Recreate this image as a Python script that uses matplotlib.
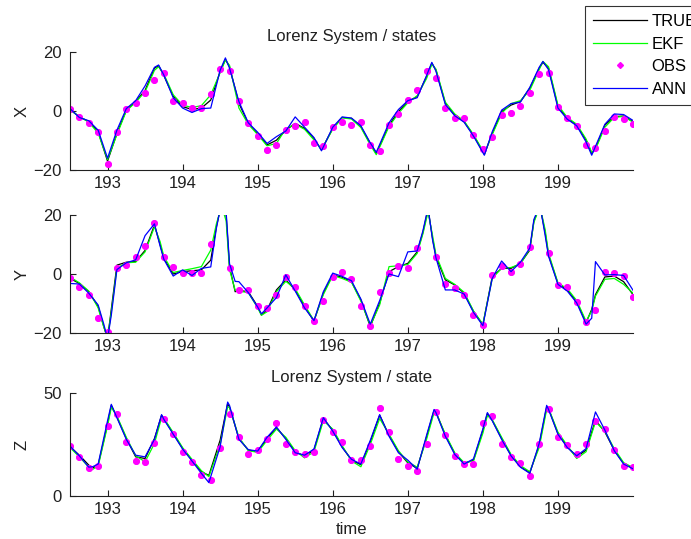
import matplotlib
matplotlib.use("Agg")
import matplotlib.pyplot as plt
from matplotlib.lines import Line2D

plt.rcParams['font.family'] = ['Liberation Sans', 'DejaVu Sans']

# ---------------- data ----------------
t_obs = [192.5, 192.625, 192.75, 192.875, 193.0, 193.125, 193.25, 193.375, 193.5, 193.625,
         193.75, 193.875, 194.0, 194.125, 194.25, 194.375, 194.5, 194.625, 194.75, 194.875,
         195.0, 195.125, 195.25, 195.375, 195.5, 195.625, 195.75, 195.875, 196.0, 196.125,
         196.25, 196.375, 196.5, 196.625, 196.75, 196.875, 197.0, 197.125, 197.25, 197.375,
         197.5, 197.625, 197.75, 197.875, 198.0, 198.125, 198.25, 198.375, 198.5, 198.625,
         198.75, 198.875, 199.0, 199.125, 199.25, 199.375, 199.5, 199.625, 199.75, 199.875,
         200.0]

# X state
t_x = [192.5, 192.625, 192.75, 192.875, 193.0, 193.125, 193.25, 193.375, 193.5, 193.625,
       193.68, 193.75, 193.875, 194.0, 194.125, 194.25, 194.375, 194.5, 194.57, 194.625,
       194.75, 194.875, 195.0, 195.125, 195.25, 195.375, 195.5, 195.625, 195.75, 195.85,
       196.0, 196.125, 196.25, 196.375, 196.5, 196.58, 196.75, 196.875, 197.0, 197.125,
       197.25, 197.32, 197.375, 197.5, 197.625, 197.75, 197.875, 198.02, 198.125, 198.25,
       198.375, 198.5, 198.625, 198.75, 198.8, 198.875, 199.0, 199.125, 199.25, 199.375,
       199.45, 199.5, 199.625, 199.75, 199.875, 200.0]
x_true = [0.5, -2.0, -3.6, -7.0, -17.0, -7.6, 0.3, 3.2, 7.0, 14.5,
          15.4, 12.0, 5.0, 1.5, 0.5, 1.0, 3.7, 13.4, 17.5, 15.0,
          2.6, -4.2, -7.6, -11.5, -9.9, -6.5, -4.2, -5.9, -9.3, -13.2,
          -5.9, -2.2, -2.5, -5.3, -11.0, -14.4, -4.8, -0.2, 3.2, 4.9,
          11.7, 16.2, 13.9, 2.6, -1.4, -3.6, -8.2, -14.7, -7.6, -0.2,
          2.0, 3.2, 7.7, 14.5, 16.5, 14.5, 1.5, -2.5, -4.8, -9.9,
          -14.4, -12.7, -4.8, -1.9, -1.7, -3.6]
x_ekf = [0.3, -1.8, -3.8, -7.5, -16.5, -8.0, 0.0, 3.0, 6.5, 13.8,
         15.0, 12.5, 5.5, 2.0, 1.2, 1.8, 5.5, 13.0, 17.2, 15.5,
         1.0, -4.5, -8.0, -11.8, -11.0, -6.0, -4.5, -6.2, -9.8, -13.0,
         -6.2, -2.3, -2.7, -5.6, -11.5, -14.8, -5.2, -0.8, 2.8, 5.2,
         11.0, 15.8, 14.2, 3.0, -1.0, -3.4, -8.0, -14.3, -8.0, -0.8,
         2.5, 3.5, 7.0, 14.0, 16.8, 15.0, 2.0, -2.2, -4.5, -9.5,
         -14.0, -13.0, -5.5, -2.2, -1.8, -3.8]
x_ann = [0.8, -2.2, -3.3, -6.5, -16.0, -6.5, 0.8, 3.5, 8.5, 14.8,
         15.6, 12.2, 4.5, 1.0, -0.5, 0.8, 1.0, 13.8, 18.0, 14.5,
         3.2, -4.0, -7.2, -11.0, -8.7, -6.8, -2.0, -5.5, -9.0, -13.5,
         -5.5, -2.0, -2.4, -5.0, -10.8, -14.0, -4.0, 0.5, 3.5, 4.5,
         12.0, 16.5, 13.5, 2.2, -1.6, -3.8, -8.5, -15.0, -7.0, 0.3,
         2.5, 3.0, 8.0, 14.8, 16.8, 14.0, 1.0, -2.8, -5.0, -10.5,
         -15.0, -12.0, -4.5, -1.0, -1.2, -3.2]
x_obs = [0.7, -1.9, -4.2, -7.0, -17.8, -7.2, 0.6, 2.8, 6.0, 10.5,
         13.0, 3.5, 2.6, 1.1, 1.1, 5.7, 14.2, 13.4, 3.5, -4.2,
         -8.5, -13.2, -11.5, -6.5, -5.0, -3.6, -11.0, -11.8, -5.3, -3.6,
         -4.8, -3.6, -11.4, -13.6, -4.8, -1.1, 3.7, 7.1, 13.4, 11.2,
         0.9, -2.5, -2.5, -8.2, -12.9, -8.7, -1.4, -0.6, 1.7, 6.0,
         12.6, 13.0, 1.2, -2.5, -5.0, -11.4, -12.5, -6.8, -1.9, -2.8,
         -4.5]

# Y state
t_y = [192.5, 192.625, 192.75, 192.875, 192.95, 193.0, 193.05, 193.125, 193.25, 193.375,
       193.5, 193.625, 193.7, 193.75, 193.875, 194.0, 194.125, 194.25, 194.375, 194.45,
       194.52, 194.58, 194.625, 194.7, 194.75, 194.875, 195.0, 195.05, 195.125, 195.25,
       195.375, 195.5, 195.625, 195.75, 195.875, 196.0, 196.125, 196.25, 196.375, 196.5,
       196.625, 196.75, 196.875, 197.0, 197.125, 197.2, 197.27, 197.33, 197.375, 197.5,
       197.625, 197.75, 197.875, 198.0, 198.125, 198.25, 198.375, 198.5, 198.625, 198.68,
       198.76, 198.83, 198.875, 199.0, 199.125, 199.25, 199.375, 199.45, 199.5, 199.625,
       199.75, 199.875, 200.0]
y_true = [-1.5, -3.2, -6.0, -11.0, -17.8, -22.0, -12.0, 3.0, 4.0, 4.2,
          8.0, 16.6, 10.0, 5.3, 0.0, 0.8, 1.1, 1.4, 4.7, 16.0,
          24.0, 20.0, 2.5, -6.0, -5.6, -6.0, -11.0, -13.9, -12.2, -5.4,
          -2.0, -5.4, -11.0, -16.0, -6.5, -0.3, -1.1, -2.6, -8.8, -17.8,
          -9.9, 0.8, 2.5, 3.6, 7.5, 14.0, 22.0, 12.0, 5.9, -2.0,
          -3.7, -6.5, -12.7, -17.2, -0.9, 1.9, 1.9, 3.6, 8.1, 18.0,
          23.0, 14.0, 6.4, -3.2, -5.4, -9.4, -16.5, -12.0, -7.0, -1.0,
          -0.7, -2.6, -7.0]
y_ekf = [-1.0, -3.0, -5.8, -11.5, -18.0, -21.5, -13.0, 2.0, 3.8, 4.0,
         7.5, 16.0, 11.0, 6.0, 0.5, 1.2, 1.8, 2.5, 8.1, 17.0,
         23.0, 18.0, 1.5, -5.5, -5.8, -6.3, -11.5, -14.0, -12.8, -6.0,
         -2.5, -5.0, -10.5, -15.8, -7.0, -0.5, -1.5, -2.8, -9.2, -17.5,
         -10.5, 2.5, 2.8, 3.2, 7.0, 13.5, 21.0, 13.0, 6.5, -1.5,
         -3.5, -6.2, -12.5, -17.0, -1.5, 2.0, 2.2, 3.4, 8.5, 17.5,
         23.0, 15.0, 7.0, -3.0, -5.0, -9.0, -16.0, -12.5, -7.5, -1.8,
         -1.5, -3.5, -6.5]
y_ann = [-3.2, -3.4, -6.5, -10.5, -17.0, -22.0, -14.0, 1.5, 3.8, 4.8,
         13.0, 17.0, 9.5, 5.0, -0.7, 1.4, -0.5, 1.9, 2.4, 15.5,
         24.5, 21.0, 3.5, -2.5, -2.6, -6.3, -11.2, -13.5, -11.5, -8.0,
         -0.3, -5.8, -11.5, -15.8, -6.0, 0.3, -0.8, -2.3, -8.5, -17.0,
         -9.0, 0.0, -0.9, 7.5, 7.8, 14.5, 22.5, 11.5, 5.5, -5.4,
         -5.4, -6.8, -13.0, -17.5, -1.5, 4.4, 0.8, 4.0, 8.8, 18.5,
         23.5, 13.0, 6.0, -3.5, -5.8, -9.8, -17.0, -15.0, 4.2, -0.3,
         -0.2, -0.5, -5.5]
y_obs = [-1.5, -4.3, -7.0, -14.8, -19.8, 1.9, 3.0, 5.9, 9.4, 17.2,
         5.6, 2.5, 0.5, 0.2, 0.5, 10.3, 22.0, 2.0, -5.4, -5.4,
         -10.8, -11.6, -7.0, -1.0, -4.3, -10.8, -16.1, -9.0, -1.1, 0.8,
         -1.8, -11.0, -17.7, -6.0, 0.5, 2.8, 1.9, 8.7, 22.0, 5.9,
         -3.5, -4.8, -7.0, -13.9, -17.2, -0.3, 2.8, 0.8, 3.4, 9.0,
         23.0, 7.0, -3.7, -4.5, -9.4, -16.2, -12.2, 0.8, 0.5, -0.7,
         -7.9]

# Z state
t_z = [192.5, 192.625, 192.75, 192.8, 192.875, 193.0, 193.05, 193.125, 193.25, 193.375,
       193.5, 193.625, 193.72, 193.75, 193.875, 194.0, 194.125, 194.25, 194.35, 194.5,
       194.6, 194.625, 194.75, 194.875, 195.0, 195.125, 195.25, 195.375, 195.5, 195.625,
       195.75, 195.875, 196.0, 196.125, 196.25, 196.375, 196.5, 196.625, 196.75, 196.875,
       197.0, 197.125, 197.25, 197.35, 197.375, 197.5, 197.625, 197.75, 197.875, 198.0,
       198.06, 198.125, 198.25, 198.375, 198.5, 198.625, 198.75, 198.85, 198.875, 199.0,
       199.125, 199.25, 199.375, 199.5, 199.625, 199.75, 199.875, 200.0]
z_true = [23.9, 19.8, 15.0, 13.6, 15.0, 35.0, 44.0, 38.4, 27.9, 19.0,
          18.2, 27.9, 39.2, 37.6, 30.3, 23.1, 17.4, 11.8, 10.0, 27.1,
          44.8, 43.2, 27.9, 22.3, 21.5, 27.9, 33.2, 27.9, 21.5, 19.4,
          22.3, 37.6, 31.9, 23.9, 17.4, 15.2, 26.3, 39.2, 29.5, 21.5,
          16.1, 13.4, 28.7, 41.6, 40.8, 29.5, 20.6, 15.8, 17.4, 31.9,
          40.0, 36.8, 27.9, 19.8, 14.2, 11.3, 24.7, 43.2, 42.4, 30.3,
          23.9, 19.0, 22.3, 36.8, 31.1, 22.3, 15.8, 13.4]
z_ekf = [23.5, 19.0, 14.0, 12.9, 14.5, 34.0, 43.0, 38.8, 28.5, 19.5,
         16.6, 25.5, 38.0, 37.8, 30.8, 23.5, 17.8, 12.3, 9.4, 25.0,
         43.2, 43.0, 28.5, 22.0, 21.2, 27.0, 32.5, 28.5, 22.0, 18.5,
         21.5, 36.5, 32.5, 24.5, 17.0, 14.2, 25.0, 37.6, 30.0, 22.0,
         16.5, 14.0, 27.5, 40.5, 40.5, 30.0, 21.0, 16.2, 17.0, 30.5,
         39.0, 37.0, 28.5, 20.2, 14.8, 11.8, 23.5, 42.0, 42.5, 31.0,
         24.5, 18.2, 21.5, 36.0, 31.5, 23.0, 16.2, 13.8]
z_ann = [24.2, 19.5, 14.0, 14.2, 15.5, 36.5, 44.5, 38.0, 27.5, 19.8,
         19.0, 27.5, 39.5, 37.2, 30.0, 22.8, 17.0, 11.0, 6.5, 23.9,
         45.6, 44.0, 27.5, 22.5, 21.8, 28.5, 33.5, 27.5, 21.0, 19.8,
         22.8, 38.0, 31.5, 23.5, 17.8, 15.5, 27.0, 39.5, 29.0, 21.0,
         17.4, 13.0, 29.5, 42.0, 40.5, 29.0, 20.2, 15.5, 18.0, 32.5,
         40.5, 36.5, 27.5, 19.5, 14.0, 11.0, 25.5, 44.0, 42.0, 30.0,
         23.5, 19.5, 23.0, 40.8, 32.0, 22.0, 15.5, 13.2]
z_obs = [24.2, 19.0, 13.4, 14.5, 33.9, 40.0, 26.3, 17.1, 16.6, 25.5,
         37.3, 30.0, 21.5, 16.6, 10.2, 7.7, 23.5, 40.0, 28.4, 20.6,
         22.3, 27.9, 35.5, 25.2, 21.5, 20.6, 21.5, 37.1, 31.1, 26.3,
         17.7, 17.7, 24.2, 42.9, 31.1, 18.2, 14.5, 12.3, 25.2, 40.8,
         29.5, 19.4, 15.5, 15.5, 35.5, 38.7, 25.2, 18.7, 16.1, 9.7,
         25.2, 42.4, 28.7, 25.0, 20.6, 25.2, 36.3, 32.7, 22.3, 14.8,
         14.2]

x_ticks = [193, 194, 195, 196, 197, 198, 199]
series_names = ['TRUE', 'EKF', 'OBS', 'ANN']
titles = ['Lorenz System / states', '', 'Lorenz System / state']
ylabels = ['X', 'Y', 'Z']
ylims = [(-20, 20), (-20, 20), (0, 50)]
yticks = [[-20, 0, 20], [-20, 0, 20], [0, 50]]

# ---------------- figure ----------------
W, H = 691, 539
fig = plt.figure(figsize=(W / 100, H / 100), dpi=100)

C_TRUE, C_EKF, C_OBS, C_ANN = 'black', '#00ff00', '#ff00ff', '#0000ff'
C_AX = '#202020'
FS = 12

def px_axes(left, top, right, bottom):
    return fig.add_axes([left / W, 1 - bottom / H, (right - left) / W, (bottom - top) / H])

axes = [px_axes(70, 52, 633, 170), px_axes(70, 215, 633, 333), px_axes(70, 393, 633, 496)]
panels = [(t_x, x_true, x_ekf, x_ann, x_obs),
          (t_y, y_true, y_ekf, y_ann, y_obs),
          (t_z, z_true, z_ekf, z_ann, z_obs)]

lw = 0.9
for ax, (t, tr, ek, an, ob), title, yl, ylim, yt in zip(axes, panels, titles, ylabels, ylims, yticks):
    ax.plot(t, tr, color=C_TRUE, lw=lw)
    ax.plot(t, ek, color=C_EKF, lw=lw)
    ax.plot(t_obs, ob, linestyle='none', marker=(8, 2, 0), markersize=4.8,
            markeredgewidth=1.4, color=C_OBS)
    ax.plot(t, an, color=C_ANN, lw=lw)
    ax.set_xlim(192.5, 200.0)
    ax.set_ylim(*ylim)
    ax.set_xticks(x_ticks)
    ax.set_yticks(yt)
    ax.spines['top'].set_visible(False)
    ax.spines['right'].set_visible(False)
    for s in ('left', 'bottom'):
        ax.spines[s].set_linewidth(0.8)
        ax.spines[s].set_color(C_AX)
    ax.tick_params(direction='in', length=4, width=0.8, labelsize=FS, pad=4,
                   colors=C_AX)
    ax.tick_params(axis='y', pad=6)
    ax.set_ylabel(yl, fontsize=FS, color=C_AX)
    ax.yaxis.set_label_coords(-0.072, 0.5)
    if title:
        ax.set_title(title, fontsize=FS, pad=8, color=C_AX)

axes[2].set_xlabel('time', fontsize=FS, color=C_AX, labelpad=4)

handles = [Line2D([], [], color=C_TRUE, lw=lw),
           Line2D([], [], color=C_EKF, lw=lw),
           Line2D([], [], color=C_OBS, linestyle='none', marker='D', markersize=3),
           Line2D([], [], color=C_ANN, lw=lw)]
leg = fig.legend(handles, series_names, loc='upper left',
                 bbox_to_anchor=(585 / W, 1 - 6 / H), borderaxespad=0,
                 fontsize=FS, frameon=True, fancybox=False, edgecolor='black',
                 handlelength=3.2, handletextpad=0.3, labelspacing=0.45,
                 borderpad=0.5)
leg.get_frame().set_linewidth(0.8)

fig.savefig('out.png', dpi=100)
